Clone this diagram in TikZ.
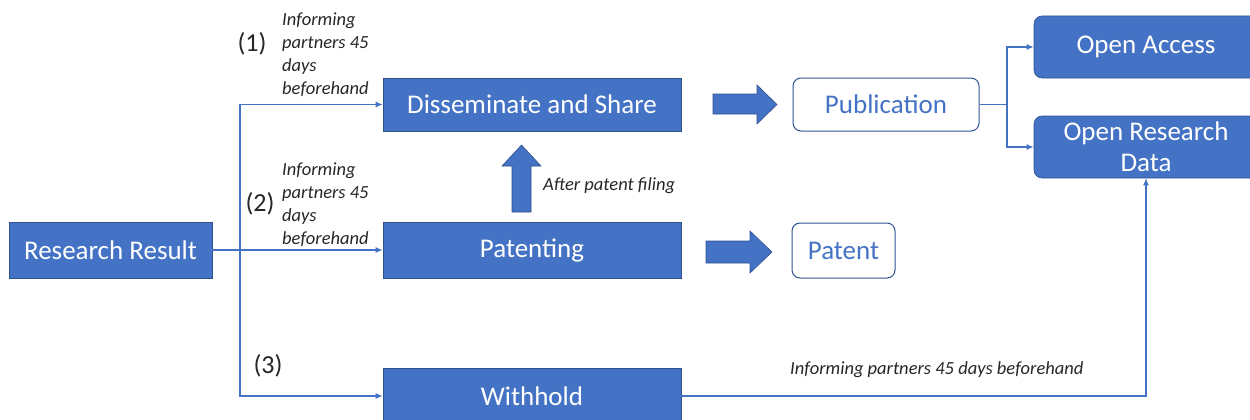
\documentclass[tikz,border=0pt]{standalone}
\usepackage{fontspec}
\setmainfont{Carlito}
\usetikzlibrary{arrows.meta}
\definecolor{mblue}{HTML}{4472C4}
\definecolor{dblue}{HTML}{2F528F}
\begin{document}
\begin{tikzpicture}[x=1pt,y=-1pt,
  fbox/.style={draw=dblue,line width=0.6pt,fill=mblue,text=white,font=\fontsize{27}{31}\selectfont,inner sep=0pt,anchor=center},
  obox/.style={draw=dblue,line width=1pt,fill=white,text=mblue,rounded corners=8pt,font=\fontsize{27}{31}\selectfont,inner sep=0pt},
  rbox/.style={fbox,rounded corners=8pt},
  conn/.style={draw=mblue,line width=1.2pt,-{Latex[length=7pt,width=6pt]}},
  line/.style={draw=mblue,line width=1.2pt},
  lbl/.style={font=\fontsize{18.5}{22.7}\selectfont\itshape,text=black!85,align=left,inner sep=0pt},
  num/.style={font=\fontsize{26}{30}\selectfont,text=black!85,inner sep=0pt},
  barrow/.style={fill=mblue,draw=dblue,line width=0.6pt}]
\useasboundingbox (0,0) rectangle (1250,420);
\clip (0,0) rectangle (1250,420);
% boxes
\node[fbox,minimum width=203pt,minimum height=56pt] (rr) at (110.5,250) {Research Result};
\node[fbox,minimum width=298pt,minimum height=53pt] (ds) at (532,104.5) {Disseminate and Share};
\node[fbox,minimum width=298pt,minimum height=56pt] (pt) at (532,250) {Patenting};
\node[fbox,minimum width=298pt,minimum height=56pt] (wh) at (532,396) {Withhold};
\node[obox,minimum width=186pt,minimum height=53pt] (pub) at (886,104.5) {Publication};
\node[obox,minimum width=103pt,minimum height=55pt] (pat) at (843.5,250.5) {Patent};
\node[rbox,minimum width=224pt,minimum height=62pt] (oa) at (1146,47) {Open Access};
\node[rbox,minimum width=224pt,minimum height=62pt,align=center] (ord) at (1146,147) {Open Research\\Data};
% block arrows
\draw[barrow] (713,94) -- (757,94) -- (757,85) -- (777,104.5) -- (757,124) -- (757,114) -- (713,114) -- cycle;
\draw[barrow] (706,241) -- (750,241) -- (750,231) -- (772,252) -- (750,273) -- (750,263) -- (706,263) -- cycle;
\draw[barrow] (512,212) -- (512,166) -- (502,166) -- (521.5,145) -- (541,166) -- (531,166) -- (531,212) -- cycle;
% connectors
\coordinate (j) at (240,250);
\draw[line] (rr.east) -- (j);
\draw[conn] (rr.east) -- (pt.west);
\draw[conn] (j) |- (ds.west);
\draw[conn] (j) |- (wh.west);
\coordinate (pj) at (1007,104.5);
\draw[line] (pub.east) -- (pj);
\draw[conn] (pj) |- (oa.west);
\draw[conn] (pj) |- (ord.west);
\draw[conn] (wh.east) -| (ord.south);
% labels
\node[num] (n1) at (252,44) {(1)};
\node[num] (n2) at (260,204) {(2)};
\node[num] (n3) at (268,366) {(3)};
\node[lbl,anchor=north west] (l1) at (282,13) {Informing\\partners 45\\days\\beforehand};
\node[lbl,anchor=north west] (l2) at (282,163) {Informing\\partners 45\\days\\beforehand};
\node[lbl,anchor=west] (l3) at (543,186) {After patent filing};
\node[lbl,anchor=west] (l4) at (790,370) {Informing partners 45 days beforehand};
\end{tikzpicture}
\end{document}
